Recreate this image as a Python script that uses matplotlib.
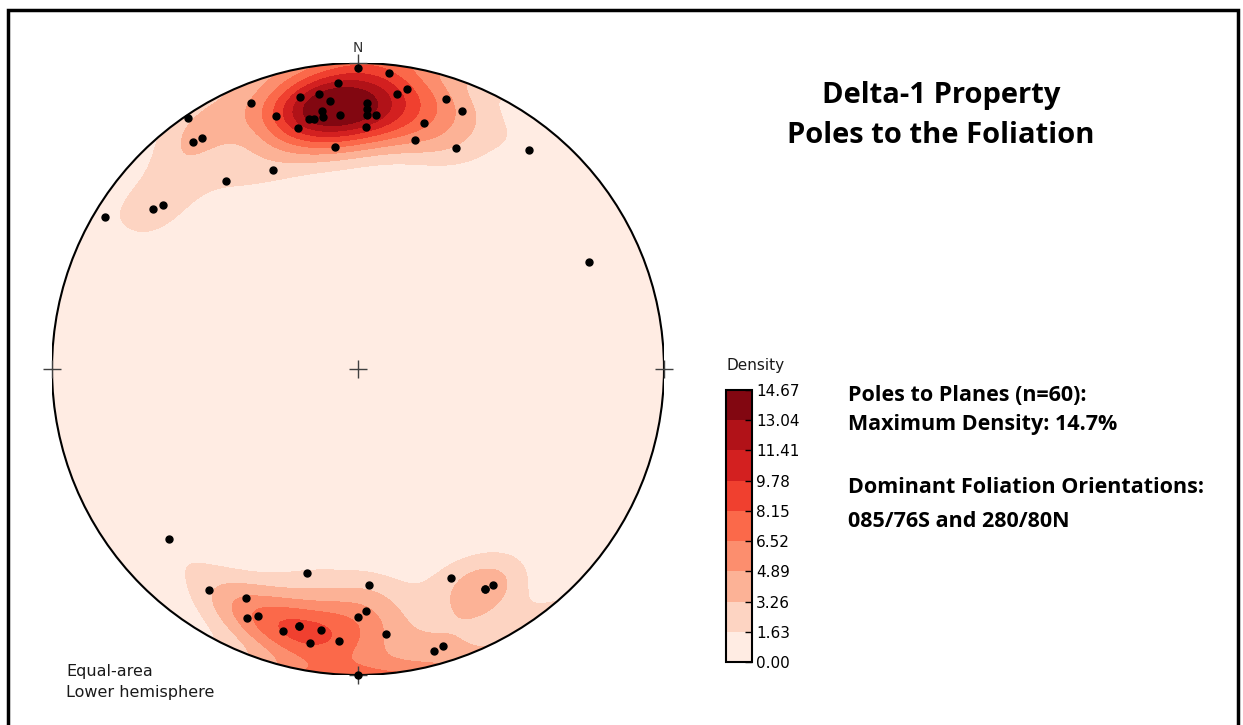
import numpy as np
import matplotlib.pyplot as plt
from matplotlib.patches import Circle, Rectangle

# foliation planes, strike / dip (right-hand rule), read off the net
# (n=60: two of the poles sit on top of others)
strikes = [90, 96, 86, 68, 78, 82, 84, 98, 100, 108, 112, 92, 92, 82, 72,
           79, 80, 82, 86, 92, 94, 105, 76, 92, 104, 84, 114, 128, 67, 55,
           56, 54, 56, 38, 40, 31, 155,
           318, 284, 304, 267, 246, 240, 238, 296, 294, 292, 268, 270, 286,
           283, 278, 280, 274, 264, 255, 253, 270, 240, 283]
dips = [88, 87, 83, 83, 80, 80, 77, 80, 82, 82, 80, 76, 74, 74, 76,
        72, 72, 72, 72, 72, 72, 72, 70, 68, 66, 62, 68, 80, 60, 64,
        89, 81, 80, 74, 72, 86, 72,
        72, 58, 76, 60, 64, 72, 72, 72, 78, 76, 68, 70, 78,
        75, 75, 80, 78, 76, 85, 84, 90, 72, 75]

density_levels = [0.00, 1.63, 3.26, 4.89, 6.52, 8.15, 9.78, 11.41, 13.04, 14.67]

title_lines = ["Delta-1 Property", "Poles to the Foliation"]
info_lines = ["Poles to Planes (n=60):", "Maximum Density: 14.7%",
              "Dominant Foliation Orientations:", "085/76S and 280/80N"]

W, H = 1243, 725


def fx(x):
    return x / W


def fy(y):
    return 1 - y / H


def pole_vectors(strike, dip):
    trend = np.radians(np.asarray(strike, float) - 90)
    plunge = np.radians(90 - np.asarray(dip, float))
    return np.column_stack([np.cos(plunge) * np.sin(trend),
                            np.cos(plunge) * np.cos(trend),
                            np.sin(plunge)])


def project(vec):
    # lambert equal-area, lower hemisphere, primitive circle of radius 1
    e, n, d = vec.T
    r = np.sqrt(1 - d)
    h = np.hypot(e, n)
    h[h == 0] = 1
    return r * e / h, r * n / h


def unproject(x, y):
    r2 = x ** 2 + y ** 2
    d = 1 - r2
    h = np.sqrt(np.clip(1 - d ** 2, 0, None))
    r = np.sqrt(r2)
    r[r == 0] = 1
    return np.column_stack([(x / r * h).ravel(), (y / r * h).ravel(), d.ravel()])


def exponential_kamb(grid, poles, sigma=1.5):
    n = len(poles)
    f = 2 * (1 + n / sigma ** 2)
    units = np.sqrt(n * (f / 2 - 1) / f ** 2)
    cos_dist = np.abs(grid @ poles.T)
    counts = np.exp(f * (cos_dist - 1)).sum(axis=1)
    return np.clip((counts - 0.5) / units, 0, None)


poles = pole_vectors(strikes, dips)
px, py = project(poles)

gx, gy = np.meshgrid(np.linspace(-1.05, 1.05, 211), np.linspace(-1.05, 1.05, 211))
dens = exponential_kamb(unproject(gx, gy), poles).reshape(gx.shape)
dens = np.minimum(dens, density_levels[-1])

fig = plt.figure(figsize=(W / 100, H / 100), dpi=100)

# stereonet
ax = fig.add_axes([fx(52), fy(675), 612 / W, 612 / H])
ax.set_xlim(-1, 1)
ax.set_ylim(-1, 1)
ax.set_aspect('equal')
ax.axis('off')

cs = ax.contourf(gx, gy, dens, levels=density_levels, cmap='Reds')
clip = Circle((0, 0), 1, transform=ax.transData)
cs.set_clip_path(clip)
ax.add_patch(Circle((0, 0), 1, fill=False, lw=1.5, ec='k', zorder=3))

ax.plot([0, -1, 1, 0, 0], [0, 0, 0, 1, -1], '+', ms=13, mew=1, color='0.25',
        clip_on=False, zorder=4)
ax.plot(px, py, 'o', color='k', ms=5, clip_on=False, zorder=5)

fig.text(fx(358), fy(48), 'N', ha='center', va='center', fontsize=10, color='0.2')
fig.text(fx(66), fy(676), 'Equal-area', fontsize=11.5, va='baseline', color='0.1')
fig.text(fx(66), fy(697), 'Lower hemisphere', fontsize=11.5, va='baseline', color='0.1')

# colour bar
cax = fig.add_axes([fx(726), fy(662), 26 / W, 272 / H])
cb = fig.colorbar(cs, cax=cax, ticks=density_levels)
cb.ax.set_yticklabels(['%.2f' % v for v in density_levels])
cb.ax.tick_params(direction='in', length=5, width=1, labelsize=11, pad=3)
cb.outline.set_linewidth(1.5)
fig.text(fx(726), fy(370), 'Density', fontsize=11, va='baseline', color='0.1')

# text panel
for i, line in enumerate(title_lines):
    fig.text(fx(941), fy(103 + 40 * i), line, ha='center', va='baseline',
             fontsize=21, fontweight='bold', family='Open Sans')

for line, yb in zip(info_lines, [401, 430, 493, 527]):
    fig.text(fx(848), fy(yb), line, va='baseline', fontsize=15.5,
             fontweight='bold', family='Open Sans')

# frame
fig.add_artist(Rectangle((fx(8), -0.05), (1238 - 8) / W, fy(10) + 0.05,
                         transform=fig.transFigure, fill=False, lw=2.5, ec='k'))

fig.savefig('out.png', dpi=100)
